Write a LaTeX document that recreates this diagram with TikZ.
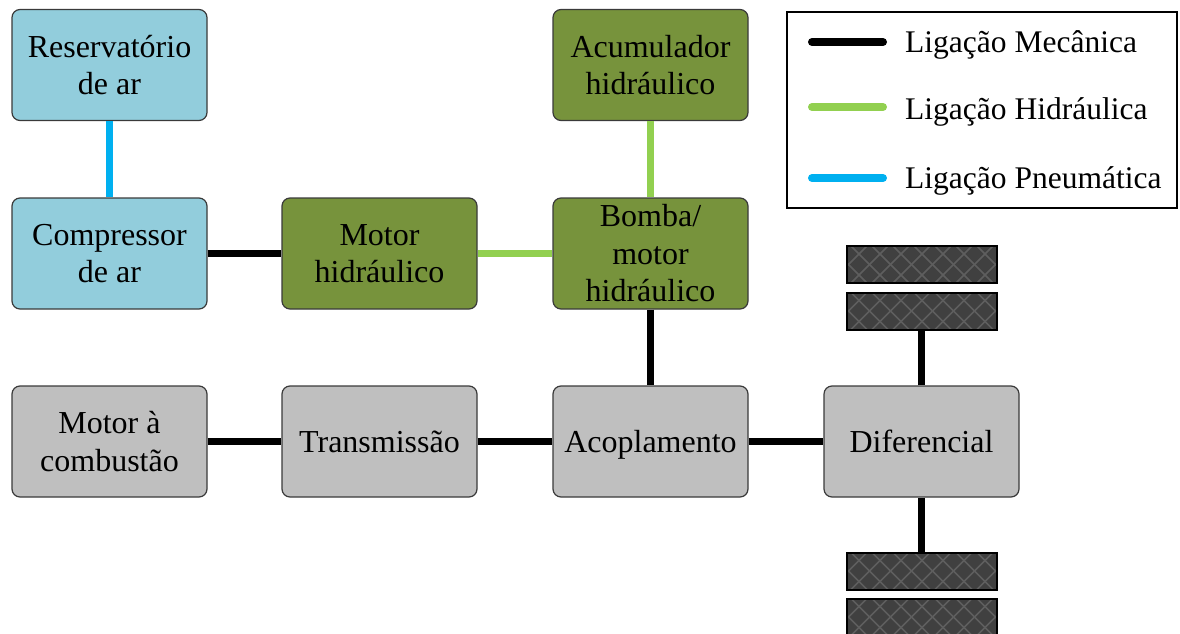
\documentclass[tikz,border=0pt]{standalone}
\usepackage{fontspec}
\setmainfont{Liberation Serif}
\definecolor{boxblue}{HTML}{92CDDC}
\definecolor{boxgreen}{HTML}{77933C}
\definecolor{boxgray}{HTML}{BFBFBF}
\definecolor{boxline}{HTML}{3A3A3A}
\definecolor{pneu}{HTML}{00B0F0}
\definecolor{hidr}{HTML}{92D050}
\definecolor{wheelfill}{HTML}{404040}
\definecolor{wheelhatch}{HTML}{5E5E5E}
\tikzset{
  blk/.style={draw=boxline, line width=1.2pt, rounded corners=8pt,
    minimum width=195pt, minimum height=111pt, align=center,
    font=\fontsize{32}{37.5}\selectfont, inner sep=2pt},
  oneline/.style={text height=22pt, text depth=0pt},
  bluebox/.style={blk, fill=boxblue},
  greenbox/.style={blk, fill=boxgreen},
  graybox/.style={blk, fill=boxgray},
  mec/.style={draw=black, line width=7pt},
  hid/.style={draw=hidr, line width=7pt},
  pne/.style={draw=pneu, line width=7pt},
  wheel/.style={draw=black, line width=2pt, fill=wheelfill,
    minimum width=150pt, minimum height=37pt, inner sep=0pt,
    path picture={
      \foreach \i in {-220,-199,...,220} {
        \draw[wheelhatch, line width=1.5pt] ([xshift=\i pt]path picture bounding box.center) ++(-40,-40) -- ++(80,80);
        \draw[wheelhatch, line width=1.5pt] ([xshift=\i pt]path picture bounding box.center) ++(-40,40) -- ++(80,-80);
      }
    }},
  legline/.style={line width=8pt, line cap=round},
  legtext/.style={anchor=west, font=\fontsize{31.5}{37.5}\selectfont, inner sep=0pt}
}
\begin{document}
\begin{tikzpicture}[x=1pt,y=-1pt]
\useasboundingbox (0,0) rectangle (1180,634);
% nodes
\node[bluebox] (res) at (109.5,65) {Reservatório\\de ar};
\node[bluebox] (comp) at (109.5,253.5) {Compressor\\de ar};
\node[greenbox] (mh) at (379.5,253.5) {Motor\\hidráulico};
\node[greenbox] (acu) at (650.5,65) {Acumulador\\hidráulico};
\node[greenbox] (bomba) at (650.5,253.5) {Bomba/\\motor\\hidráulico};
\node[graybox] (mc) at (109.5,441.5) {Motor à\\combustão};
\node[graybox, oneline] (tr) at (379.5,441.5) {Transmissão};
\node[graybox, oneline] (aco) at (650.5,441.5) {Acoplamento};
\node[graybox, oneline] (dif) at (921.5,441.5) {Diferencial};
\node[wheel] (w1) at (921.5,264.5) {};
\node[wheel] (w2) at (921.5,311) {};
\node[wheel] (w3) at (921.5,571) {};
\node[wheel] (w4) at (921.5,617) {};
% connectors
\draw[pne] (res) -- (comp);
\draw[mec] (comp) -- (mh);
\draw[hid] (mh) -- (bomba);
\draw[hid] (acu) -- (bomba);
\draw[mec] (bomba) -- (aco);
\draw[mec] (mc) -- (tr);
\draw[mec] (tr) -- (aco);
\draw[mec] (aco) -- (dif);
\draw[mec] (dif) -- (w2);
\draw[mec] (dif) -- (w3);
% legend
\node[draw=black, line width=1.5pt, minimum width=390pt, minimum height=196pt, inner sep=0pt] (leg) at (982,110) {};
\coordinate (l1a) at (812,42); \coordinate (l1b) at (883,42);
\coordinate (l2a) at (812,107); \coordinate (l2b) at (883,107);
\coordinate (l3a) at (812,178); \coordinate (l3b) at (883,178);
\draw[legline, black] (l1a) -- (l1b);
\draw[legline, hidr] (l2a) -- (l2b);
\draw[legline, pneu] (l3a) -- (l3b);
\node[legtext] (t1) at (905,44.5) {Ligação Mecânica};
\node[legtext] (t2) at (905,111.5) {Ligação Hidráulica};
\node[legtext] (t3) at (905,180.5) {Ligação Pneumática};
\end{tikzpicture}
\end{document}
